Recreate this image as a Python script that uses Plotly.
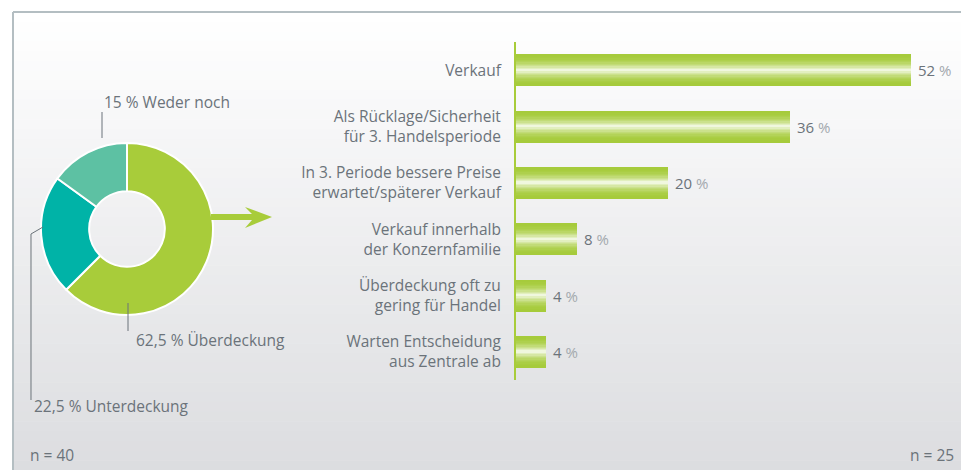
import plotly.graph_objects as go

W, H = 961, 470

# ---- data ----
pie_labels = ["Überdeckung", "Unterdeckung", "Weder noch"]
pie_values = [62.5, 22.5, 15]
pie_colors = ["#a8cc3a", "#00b3a7", "#5dc1a3"]

bar_categories = [
    "Verkauf",
    "Als Rücklage/Sicherheit<br>für 3. Handelsperiode",
    "In 3. Periode bessere Preise<br>erwartet/späterer Verkauf",
    "Verkauf innerhalb<br>der Konzernfamilie",
    "Überdeckung oft zu<br>gering für Handel",
    "Warten Entscheidung<br>aus Zentrale ab",
]
bar_values = [52, 36, 20, 8, 4, 4]

n_left = "n = 40"
n_right = "n = 25"

FONT = "Open Sans"
TXT = "#6b737a"
PCT = "#a3a9ae"


def px(x):
    return x / W


def py(y):
    return 1 - y / H


fig = go.Figure()

# donut
fig.add_trace(go.Pie(
    labels=pie_labels, values=pie_values, sort=False, direction="clockwise",
    rotation=0, hole=0.44, textinfo="none", hoverinfo="label+value",
    marker=dict(colors=pie_colors, line=dict(color="white", width=2)),
    domain=dict(x=[px(41), px(213)], y=[py(315), py(143)]),
    showlegend=False,
))

# bars with layered highlight (smooth gradient look)
base = (166, 203, 59)
light = (240, 247, 222)
n_layers = 12
full_w = 0.568
for i in range(n_layers):
    t = i / (n_layers - 1)
    w = full_w * (1 - t) + 0.035 * t
    m = t ** 2.2
    c = "rgb(%d,%d,%d)" % tuple(int(round(base[j] + (light[j] - base[j]) * m)) for j in range(3))
    fig.add_trace(go.Bar(
        x=bar_values, y=bar_categories, orientation="h",
        marker=dict(color=c, line=dict(width=0)), width=w,
        text=[f"\u00a0{v} <span style='color:{PCT}'>%</span>" for v in bar_values] if i == 0 else None,
        textposition="outside" if i == 0 else "none",
        textfont=dict(family=FONT, size=15, color=TXT),
        cliponaxis=False, showlegend=False, hoverinfo="x+y" if i == 0 else "skip",
    ))

# background gradient and frame
shapes = []
steps = 47
top = (255, 255, 255)
bot = (220, 221, 224)
for k in range(steps):
    t = k / (steps - 1)
    col = tuple(int(round(top[j] + (bot[j] - top[j]) * t)) for j in range(3))
    y0 = 12 + (H - 12) * k / steps
    y1 = 12 + (H - 12) * (k + 1) / steps
    shapes.append(dict(type="rect", xref="paper", yref="paper", layer="below",
                       x0=px(13), x1=1, y0=py(y1 + 0.5), y1=py(y0),
                       fillcolor="rgb(%d,%d,%d)" % col, line=dict(width=0)))
frame = "#b4bec2"
shapes.append(dict(type="line", xref="paper", yref="paper", x0=px(13), x1=1,
                   y0=py(12), y1=py(12), line=dict(color=frame, width=2)))
shapes.append(dict(type="line", xref="paper", yref="paper", x0=px(13), x1=px(13),
                   y0=py(12), y1=0, line=dict(color=frame, width=2)))

# leader lines
lead = "#6b737a"
shapes.append(dict(type="line", xref="paper", yref="paper", x0=px(102), x1=px(102),
                   y0=py(112), y1=py(138), line=dict(color=lead, width=1)))
shapes.append(dict(type="line", xref="paper", yref="paper", x0=px(128), x1=px(128),
                   y0=py(303), y1=py(331), line=dict(color=lead, width=1)))
shapes.append(dict(type="path", xref="paper", yref="paper",
                   path="M %f %f L %f %f L %f %f" % (px(43), py(227), px(31), py(234), px(31), py(400)),
                   line=dict(color=lead, width=1)))

# arrow
ag = "#a8cc3a"
shapes.append(dict(type="path", xref="paper", yref="paper", fillcolor=ag, line=dict(width=0),
                   path="M %f %f L %f %f L %f %f L %f %f L %f %f L %f %f L %f %f L %f %f Z" % (
                       px(211), py(214), px(252), py(214), px(245), py(207), px(272), py(217),
                       px(245), py(228), px(252), py(220), px(211), py(220), px(211), py(214))))

annos = [
    dict(text="15 % Weder noch", x=px(102), y=py(102)),
    dict(text="62,5 % Überdeckung", x=px(134), y=py(340)),
    dict(text="22,5 % Unterdeckung", x=px(32), y=py(406)),
    dict(text=n_left, x=px(28), y=py(455)),
]
annotations = []
for a in annos:
    annotations.append(dict(text=a["text"], x=a["x"], y=a["y"], xref="paper", yref="paper",
                            xanchor="left", yanchor="middle", showarrow=False,
                            font=dict(family=FONT, size=15.5, color=TXT)))
annotations.append(dict(text=n_right, x=px(956), y=py(455), xref="paper", yref="paper",
                        xanchor="right", yanchor="middle", showarrow=False,
                        font=dict(family=FONT, size=15.5, color=TXT)))

fig.update_layout(
    width=W, height=H, margin=dict(l=0, r=0, t=0, b=0),
    paper_bgcolor="white", plot_bgcolor="rgba(0,0,0,0)",
    barmode="overlay", bargap=0,
    shapes=shapes, annotations=annotations,
    font=dict(family=FONT, size=15, color=TXT),
    xaxis=dict(domain=[px(516), px(516 + 55 * 7.6)], range=[0, 55], visible=False, fixedrange=True),
    yaxis=dict(domain=[py(380), py(42)], categoryorder="array", categoryarray=bar_categories,
               autorange="reversed", showline=True, linecolor="#a8cc3a", linewidth=2,
               showgrid=False, zeroline=False, ticks="outside", ticklen=10,
               tickcolor="rgba(0,0,0,0)", tickfont=dict(family=FONT, size=15.5, color=TXT),
               fixedrange=True),
)

fig.write_html("out.html", config={"displayModeBar": False},
               post_script="document.body.style.margin='0';document.body.style.overflow='hidden';")
